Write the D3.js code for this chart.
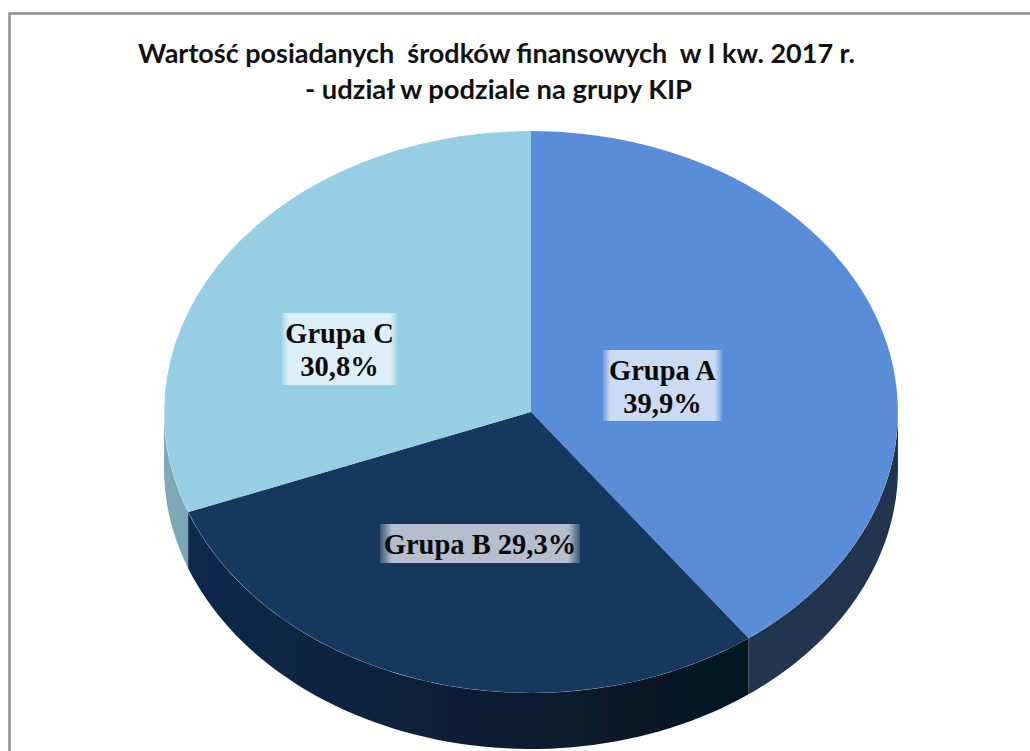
<!DOCTYPE html>
<html><head><meta charset="utf-8">
<script src="https://cdn.jsdelivr.net/npm/d3@7"></script>
<style>html,body{margin:0;padding:0;background:#fff;overflow:hidden}svg{display:block}</style>
</head><body><svg id="c" width="1030" height="751"></svg>
<script>
const categories = ["Grupa A","Grupa B","Grupa C"];
const shares = [39.9,29.3,30.8];
const shareLabels = ["39,9%","29,3%","30,8%"];
const titleLines = ["Wartość posiadanych  środków finansowych  w I kw. 2017 r.","- udział w podziale na grupy KIP"];
const topColors = ["#5a8dd8","#18375f","#96cfe3"];
const wallStops = [["#22344f","#22344f"],["#11294a","#05141f"],["#80aaba","#7ba5b5"]];

const svg = d3.select("#c");
const cx=531, cy=412, rx=367, ry=281, depth=56;
const defs = svg.append("defs");
defs.append("filter").attr("id","soft").append("feGaussianBlur").attr("stdDeviation",0.5);

svg.append("path").attr("d","M9.5,751V13.5H1030").attr("fill","none").attr("stroke","#8f8f8f").attr("stroke-width",2.5);

const title = svg.append("g").attr("font-family","Lato, sans-serif").attr("font-weight",700).attr("font-size",27).attr("fill","#111").attr("text-anchor","middle");
title.append("text").attr("x",496.5).attr("y",63).style("white-space","pre").attr("textLength",717).attr("lengthAdjust","spacingAndGlyphs").text(titleLines[0]);
title.append("text").attr("x",498.5).attr("y",99).attr("textLength",387).attr("lengthAdjust","spacingAndGlyphs").text(titleLines[1]);

const pie = d3.pie().sort(null).value(d=>d);
const arcs = pie(shares);
const x = d3.scaleLinear().domain([-1,1]).range([cx-rx,cx+rx]);
const y = d3.scaleLinear().domain([-1,1]).range([cy-ry,cy+ry]);

const pie3d = svg.append("g").attr("filter","url(#soft)");
// side walls: visible portion of the rim lies between 90° and 270° clockwise from top
const lo=Math.PI/2, hi=Math.PI*1.5;
arcs.forEach((a,i)=>{
  const a0=Math.max(a.startAngle,lo), a1=Math.min(a.endAngle,hi);
  if(a1<=a0) return;
  const pts=d3.range(0,61).map(k=>a0+(a1-a0)*k/60);
  const area=d3.area().x(t=>x(Math.sin(t))).y0(t=>y(-Math.cos(t))).y1(t=>y(-Math.cos(t))+depth);
  const id="wall"+i;
  const g=defs.append("linearGradient").attr("id",id).attr("gradientUnits","userSpaceOnUse")
    .attr("x1",x(Math.sin(a1))).attr("x2",x(Math.sin(a0))).attr("y1",0).attr("y2",0);
  g.append("stop").attr("offset",0).attr("stop-color",wallStops[i][0]);
  g.append("stop").attr("offset",1).attr("stop-color",wallStops[i][1]);
  pie3d.append("path").attr("d",area(pts)).attr("fill",`url(#${id})`);
});
// top face
const arc=d3.arc().innerRadius(0).outerRadius(1);
const face=pie3d.append("g").attr("transform",`translate(${cx},${cy}) scale(${rx},${ry})`);
face.selectAll("path").data(arcs).join("path").attr("d",arc).attr("fill",(d,i)=>topColors[i]);

// labels
const fade=defs.append("linearGradient").attr("id","fade");
[[0,.15],[.06,.68],[.94,.68],[1,.15]].forEach(s=>fade.append("stop").attr("offset",s[0]).attr("stop-color","#fff").attr("stop-opacity",s[1]));
const labelBoxes=[[603,350,119,71],[380,524,200,39],[282,313,115,72]];
const labelLines=[[categories[0],shareLabels[0]],[categories[1]+" "+shareLabels[1]],[categories[2],shareLabels[2]]];
const lab=svg.append("g").attr("font-family","'Liberation Serif', serif").attr("font-weight",700).attr("font-size",28.5).attr("fill","#0a0a0a").attr("text-anchor","middle");
labelBoxes.forEach((b,i)=>{
  lab.append("rect").attr("x",b[0]).attr("y",b[1]).attr("width",b[2]).attr("height",b[3]).attr("fill","url(#fade)");
  labelLines[i].forEach((t,j)=>lab.append("text").attr("x",b[0]+b[2]/2).attr("y",b[1]+29.5+j*33).text(t));
});
</script></body></html>
